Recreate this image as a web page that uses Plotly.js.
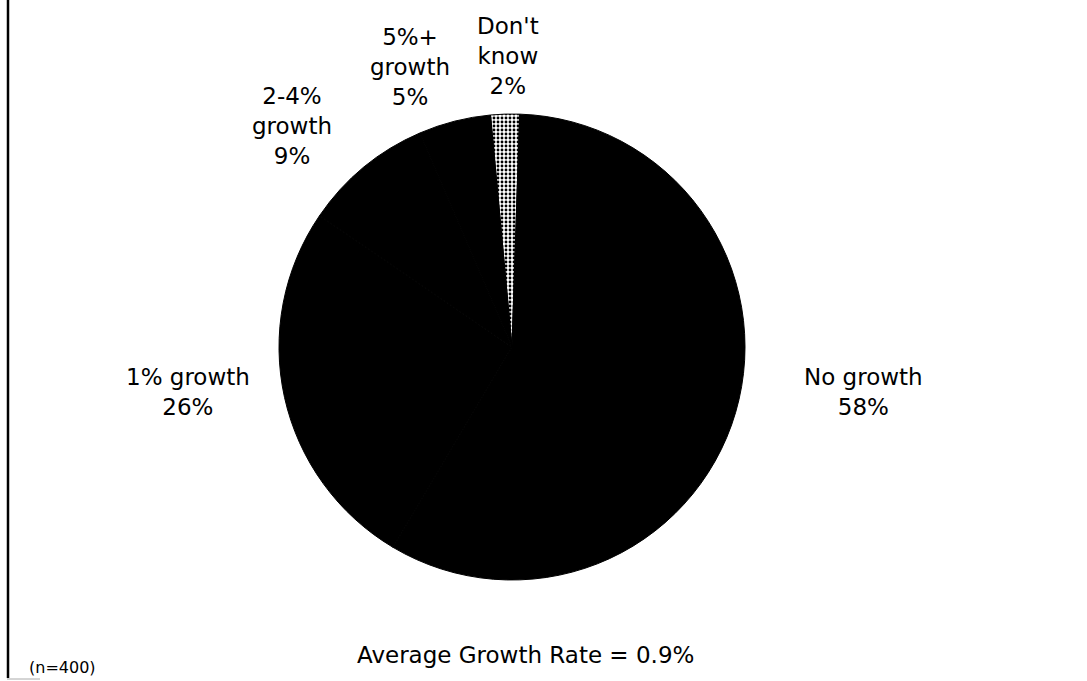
<!DOCTYPE html>
<html>
<head>
<meta charset="utf-8">
<script src="https://cdn.plot.ly/plotly-3.0.1.min.js"></script>
<style>html,body{margin:0;padding:0;background:#fff;}#chart{width:1087px;height:681px;}</style>
</head>
<body>
<div id="chart"></div>
<script>
// Data
const categories = ["Don't know", "No growth", "1% growth", "2-4% growth", "5%+ growth"];
const labelLines = [["Don't", "know"], ["No growth"], ["1% growth"], ["2-4%", "growth"], ["5%+", "growth"]];
const values = [2, 58, 26, 9, 5];
const sliceColors = ["#b4b4b4", "#000000", "#000000", "#000000", "#000000"];
const footnote = "(n=400)";
const subtitle = "Average Growth Rate = 0.9%";

// label anchor positions (paper coords)
const labelPos = [
  [508/1087, 1 - 56/681],
  [863/1087, 1 - 392/681],
  [188/1087, 1 - 392/681],
  [292/1087, 1 - 126/681],
  [410/1087, 1 - 67/681]
];

const W = 1087, H = 681;
const cx = 512, cy = 347, R = 233;

const trace = {
  type: 'pie',
  labels: categories,
  values: values,
  sort: false,
  direction: 'clockwise',
  rotation: -5.3,
  textinfo: 'none',
  hoverinfo: 'label+percent',
  marker: {
    colors: sliceColors,
    line: {width: 1, color: '#000'},
    pattern: {shape: ['.', '', '', '', ''], fgcolor: '#000', bgcolor: '#ffffff', size: 4, solidity: 0.4}
  },
  domain: {x: [(cx - R)/W, (cx + R)/W], y: [(H - cy - R)/H, (H - cy + R)/H]},
  showlegend: false
};

const font = {family: 'DejaVu Sans, Arial, sans-serif', size: 23, color: '#000'};
const annotations = categories.map((c, i) => ({
  xref: 'paper', yref: 'paper', x: labelPos[i][0], y: labelPos[i][1],
  xanchor: 'center', yanchor: 'middle', showarrow: false, align: 'center',
  text: labelLines[i].join('<br>') + '<br>' + values[i] + '%',
  font: font
}));
annotations.push({xref: 'paper', yref: 'paper', x: 525/W, y: 1 - 655/H, xanchor: 'center', yanchor: 'middle', showarrow: false, text: subtitle, font: font});
annotations.push({xref: 'paper', yref: 'paper', x: 62/W, y: 1 - 667/H, xanchor: 'center', yanchor: 'middle', showarrow: false, text: footnote, font: {family: 'DejaVu Sans, Arial, sans-serif', size: 16, color: '#000'}});

const layout = {
  width: W, height: H,
  margin: {l: 0, r: 0, t: 0, b: 0},
  paper_bgcolor: '#fff', plot_bgcolor: '#fff',
  annotations: annotations,
  shapes: [
    {type: 'line', xref: 'paper', yref: 'paper', x0: 8/W, x1: 8/W, y0: 1 - 678/H, y1: 1, line: {color: '#000', width: 2.5}},
    {type: 'line', xref: 'paper', yref: 'paper', x0: 7/W, x1: 40/W, y0: 1 - 679/H, y1: 1 - 679/H, line: {color: '#aaa', width: 1}}
  ]
};

Plotly.newPlot('chart', [trace], layout, {displayModeBar: false, staticPlot: true});
</script>
</body>
</html>
